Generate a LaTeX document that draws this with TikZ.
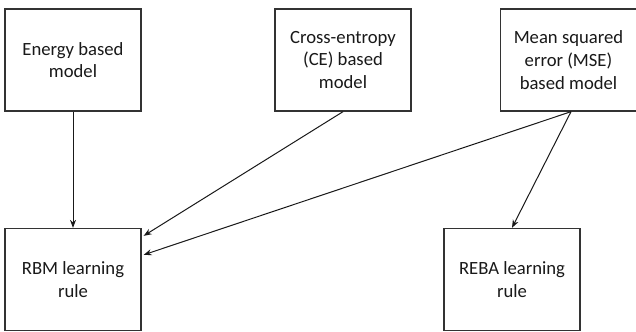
\documentclass[tikz,border=0pt]{standalone}
\usepackage{fontspec}
\setmainfont{Carlito}
\usetikzlibrary{arrows.meta,calc}
\begin{document}
\begin{tikzpicture}[x=0.75pt,y=-0.75pt,
  box/.style={draw=black!80,line width=1pt,fill=white,minimum width=102pt,minimum height=76.5pt,
    align=center,inner sep=2pt,font=\fontsize{14pt}{17pt}\selectfont,text=black!90},
  conn/.style={draw=black!90,line width=0.75pt,-{Stealth[length=6pt,width=4.5pt]}}]
\useasboundingbox (0,0) rectangle (636,332);
\node[box] (energy) at (73,60) {Energy based\\model};
\node[box] (ce) at (343,60) {Cross-entropy\\(CE) based\\model};
\node[box] (mse) at (568.5,60) {Mean squared\\error (MSE)\\based model};
\node[box] (rbm) at (73,279.5) {RBM learning\\rule};
\node[box] (reba) at (512,279.5) {REBA learning\\rule};
\coordinate (rbmA) at ($(rbm.north east)+(2,8)$);
\coordinate (rbmB) at ($(rbm.north east)+(2,27)$);
\draw[conn] (energy.south) -- (rbm.north);
\draw[conn] (ce.south) -- (rbmA);
\draw[conn] ($(mse.south)+(2.5,0)$) -- (rbmB);
\draw[conn] ($(mse.south)+(2.5,0)$) -- (reba.north);
\end{tikzpicture}
\end{document}
